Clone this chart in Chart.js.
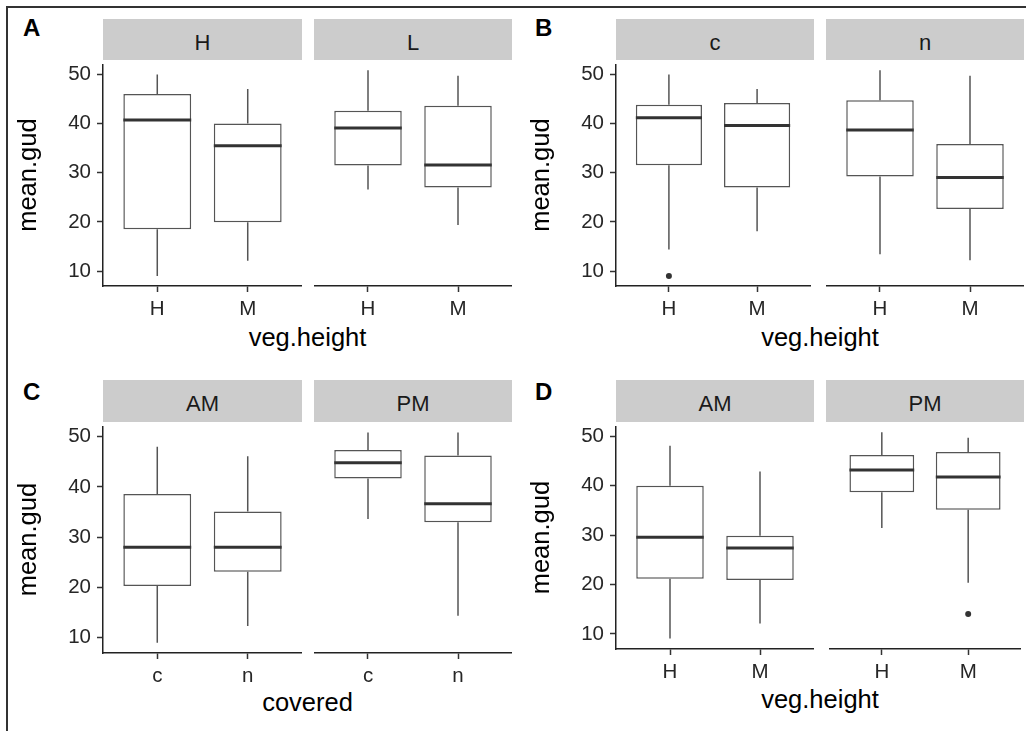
<!DOCTYPE html>
<html>
<head>
<meta charset="utf-8">
<script src="https://cdn.jsdelivr.net/npm/chart.js@4.4.1/dist/chart.umd.min.js"></script>
<style>
    body { margin: 0; background: #fff; width: 1026px; height: 731px; position: relative; overflow: hidden;
           font-family: "Liberation Sans", Arial, sans-serif; }
    .frame { position: absolute; left: 6px; top: 6px; width: 1040px; height: 740px;
             border-left: 2px solid #333; border-top: 2px solid #333; }
    .strip { position: absolute; background: #cccccc; color: #1a1a1a; font-size: 22px; text-align: center; }
    .strip span { position: relative; top: 2.5px; }
    .tag { position: absolute; font-weight: bold; font-size: 24px; line-height: 24px; color: #000; }
    .xtitle { position: absolute; font-size: 25.5px; line-height: 25.5px; color: #000; text-align: center; }
    canvas { position: absolute; }
</style>
</head>
<body>
<div class="frame"></div>
<div id="root"></div>

<script>
// ================== DATA ==================
const yTicks = [10, 20, 30, 40, 50];
const yMin = 6.95;
const yMax = 52.05;

const vegCats   = ["H", "M"];
const coverCats = ["c", "n"];

// one row per category: [lower whisker, q1, median, q3, upper whisker]
const boxA_H  = [[9.0, 18.5, 40.7, 46.0, 50.0], [12.1, 19.9, 35.5, 40.0, 47.0]];
const boxA_L  = [[26.2, 31.0, 38.5, 41.9, 50.0], [19.1, 26.6, 31.1, 42.9, 48.9]];
const boxB_c  = [[14.4, 31.5, 41.2, 43.8, 50.0], [18.1, 27.0, 39.6, 44.2, 47.0]];
const boxB_n  = [[13.3, 28.8, 38.1, 44.0, 50.0], [12.1, 22.3, 28.6, 35.3, 48.9]];
const boxC_AM = [[9.0, 20.3, 28.0, 38.6, 48.0], [12.3, 23.1, 28.0, 35.1, 46.1]];
const boxC_PM = [[33.1, 41.0, 44.1, 46.6, 50.0], [14.2, 32.5, 36.1, 45.5, 50.0]];
const boxD_AM = [[9.1, 21.2, 29.6, 40.0, 48.1], [12.1, 20.9, 27.4, 29.9, 42.9]];
const boxD_PM = [[31.0, 38.1, 42.5, 45.5, 50.0], [20.1, 34.6, 41.1, 46.1, 48.9]];

// outlying points per category
const outB_c  = [[9.0], []];
const outD_PM = [[], [13.9]];
const noOut   = [[], []];

// ================== LAYOUT ==================
const PADT = 14;     // room above plot for top tick label
const XH   = 40;     // x axis height (ticks + labels)
const YW   = 103;    // y axis width (title + labels + ticks)

const facets = [
    { box: boxA_H,  out: noOut,   cats: vegCats,   x: 103, y: 60,  w: 199, h: 226, showY: true  },
    { box: boxA_L,  out: noOut,   cats: vegCats,   x: 314, y: 60,  w: 198, h: 226, showY: false },
    { box: boxB_c,  out: outB_c,  cats: vegCats,   x: 616, y: 60,  w: 198, h: 226, showY: true  },
    { box: boxB_n,  out: noOut,   cats: vegCats,   x: 826, y: 60,  w: 198, h: 226, showY: false },
    { box: boxC_AM, out: noOut,   cats: coverCats, x: 103, y: 422, w: 199, h: 231, showY: true  },
    { box: boxC_PM, out: noOut,   cats: coverCats, x: 314, y: 422, w: 198, h: 231, showY: false },
    { box: boxD_AM, out: noOut,   cats: vegCats,   x: 616, y: 422, w: 198, h: 227, showY: true  },
    { box: boxD_PM, out: outD_PM, cats: vegCats,   x: 826, y: 422, w: 198, h: 227, showY: false }
];

const strips = [
    { text: "H",  x: 103, y: 19,  w: 199, h: 41 },
    { text: "L",  x: 314, y: 19,  w: 198, h: 41 },
    { text: "c",  x: 616, y: 19,  w: 198, h: 41 },
    { text: "n",  x: 826, y: 19,  w: 198, h: 41 },
    { text: "AM", x: 103, y: 380, w: 199, h: 42 },
    { text: "PM", x: 314, y: 380, w: 198, h: 42 },
    { text: "AM", x: 616, y: 380, w: 198, h: 42 },
    { text: "PM", x: 826, y: 380, w: 198, h: 42 }
];

const tags = [
    { text: "A", x: 23,  y: 16 },
    { text: "B", x: 535, y: 16 },
    { text: "C", x: 23,  y: 380 },
    { text: "D", x: 535, y: 380 }
];

const xTitles = [
    { text: "veg.height", x: 103, w: 409, y: 325 },
    { text: "veg.height", x: 616, w: 408, y: 325 },
    { text: "covered",    x: 103, w: 409, y: 690 },
    { text: "veg.height", x: 616, w: 408, y: 687 }
];

// ================== HTML TEXT ==================
const root = document.getElementById("root");

strips.forEach(s => {
    let d = document.createElement("div");
    d.className = "strip";
    d.style.left = s.x + "px";
    d.style.top = s.y + "px";
    d.style.width = s.w + "px";
    d.style.height = s.h + "px";
    d.style.lineHeight = s.h + "px";
    d.innerHTML = "<span>" + s.text + "</span>";
    root.appendChild(d);
});

tags.forEach(t => {
    let d = document.createElement("div");
    d.className = "tag";
    d.style.left = t.x + "px";
    d.style.top = t.y + "px";
    d.innerText = t.text;
    root.appendChild(d);
});

xTitles.forEach(t => {
    let d = document.createElement("div");
    d.className = "xtitle";
    d.style.left = t.x + "px";
    d.style.top = t.y + "px";
    d.style.width = t.w + "px";
    d.innerText = t.text;
    root.appendChild(d);
});

// ================== BOXPLOT PLUGIN ==================
// whiskers + median drawn from the bar elements and the y scale
const boxPlugin = {
    id: "boxParts",
    afterDatasetsDraw(chart, args, opts) {
        const meta = chart.getDatasetMeta(0);
        const yScale = chart.scales.y;
        const ctx = chart.ctx;
        ctx.save();
        meta.data.forEach((bar, i) => {
            const s = opts.stats[i];
            const half = bar.width / 2;

            ctx.strokeStyle = "#555";
            ctx.lineWidth = 1.5;
            ctx.beginPath();
            ctx.moveTo(bar.x, yScale.getPixelForValue(s[0]));
            ctx.lineTo(bar.x, yScale.getPixelForValue(s[1]));
            ctx.moveTo(bar.x, yScale.getPixelForValue(s[3]));
            ctx.lineTo(bar.x, yScale.getPixelForValue(s[4]));
            ctx.stroke();

            ctx.strokeStyle = "#333";
            ctx.lineWidth = 3;
            ctx.beginPath();
            ctx.moveTo(bar.x - half, yScale.getPixelForValue(s[2]));
            ctx.lineTo(bar.x + half, yScale.getPixelForValue(s[2]));
            ctx.stroke();
        });
        ctx.restore();
    }
};

// ================== FACET CHARTS ==================
Chart.defaults.font.family = "'Liberation Sans', Arial, sans-serif";

facets.forEach(f => {
    const axisW = f.showY ? YW : 0;
    let canvas = document.createElement("canvas");
    canvas.width = axisW + f.w;
    canvas.height = PADT + f.h + XH;
    canvas.style.left = (f.x - axisW) + "px";
    canvas.style.top = (f.y - PADT) + "px";
    root.appendChild(canvas);

    const boxData = f.box.map((s, i) => ({ x: i + 1, y: [s[1], s[3]] }));
    let outData = [];
    f.out.forEach((vals, i) => vals.forEach(v => outData.push({ x: i + 1, y: v })));

    new Chart(canvas, {
        type: "bar",
        data: {
            datasets: [
                {
                    type: "bar",
                    data: boxData,
                    backgroundColor: "#ffffff",
                    borderColor: "#555",
                    borderWidth: 1.5,
                    borderSkipped: false,
                    categoryPercentage: 1,
                    barPercentage: 0.75,
                    grouped: false
                },
                {
                    type: "scatter",
                    data: outData,
                    pointRadius: 3,
                    pointBackgroundColor: "#333",
                    pointBorderWidth: 0
                }
            ]
        },
        options: {
            responsive: false,
            animation: false,
            layout: { padding: { top: PADT, left: 0, right: 0, bottom: 0 } },
            plugins: {
                legend: { display: false },
                tooltip: { enabled: false },
                boxParts: { stats: f.box }
            },
            scales: {
                x: {
                    type: "linear",
                    min: 0.4,
                    max: 2.6,
                    offset: false,
                    afterBuildTicks: s => { s.ticks = f.cats.map((c, i) => ({ value: i + 1 })); },
                    afterFit: s => { s.height = XH; },
                    ticks: {
                        callback: v => f.cats[v - 1],
                        autoSkip: false,
                        maxRotation: 0,
                        padding: 5.5,
                        color: "#262626",
                        font: { size: 20.5 }
                    },
                    grid: { offset: false, drawOnChartArea: false, drawTicks: true,
                            tickLength: 6, tickColor: "#333", tickWidth: 1.5 },
                    border: { display: true, color: "#222", width: 1.5 }
                },
                y: {
                    type: "linear",
                    display: f.showY,
                    min: yMin,
                    max: yMax,
                    afterBuildTicks: s => { s.ticks = yTicks.map(v => ({ value: v })); },
                    afterFit: s => { s.width = axisW; },
                    ticks: { padding: 6, color: "#262626", font: { size: 20.5 } },
                    grid: { drawOnChartArea: false, drawTicks: true,
                            tickLength: 6, tickColor: "#333", tickWidth: 1.5 },
                    border: { display: true, color: "#222", width: 1.5 },
                    title: {
                        display: true,
                        text: "mean.gud",
                        color: "#000",
                        font: { size: 25.5 },
                        padding: { top: 14, bottom: 0 }
                    }
                }
            }
        },
        plugins: [boxPlugin]
    });
});
</script>
</body>
</html>
